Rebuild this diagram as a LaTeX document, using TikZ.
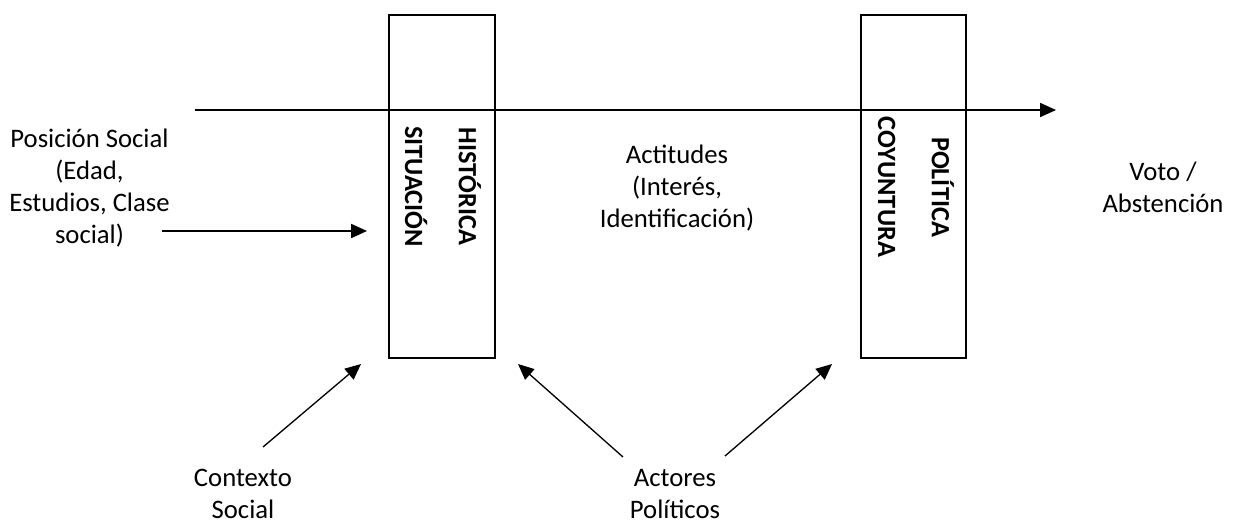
\documentclass[tikz,border=0pt]{standalone}
\usepackage{fontspec}
\setmainfont{Carlito}
\usetikzlibrary{
  positioning,
  arrows.meta,
}
\tikzset{
  panel/.style = {
    rectangle,
    draw = black,
    line width = 1pt,
    minimum width = 2.11cm,
    minimum height = 6.86cm,
    inner sep = 0pt
  },
  etiqueta/.style = {
    align = center,
    inner sep = 0pt,
    font = \fontsize{15.2}{18.2}\selectfont
  },
  vertical/.style = {
    align = center,
    rotate = -90,
    inner sep = 0pt,
    font = \fontsize{15}{30.6}\selectfont\bfseries
  },
  flecha/.style = {
    -{Triangle[length = 9pt, width = 8pt]},
    line width = 0.75pt
  },
}

\begin{document}
\begin{tikzpicture}[x = 0.02cm, y = -0.02cm]
  \useasboundingbox (0,0) rectangle (1237,525);

  % cajas
  \node[panel] (situacion) at (442,186.5) {};
  \node[panel] (coyuntura) at (913.5,186.5) {};
  \node[vertical] (situaciontxt) at (443,186.5) {HISTÓRICA\\SITUACIÓN};
  \node[vertical] (coyunturatxt) at (916,187) {POLÍTICA\\COYUNTURA};

  % textos
  \node[etiqueta] (posicion) at (89.5,188) {Posición Social\\(Edad,\\Estudios, Clase\\social)};
  \node[etiqueta] (actitudes) at (677,188.5) {Actitudes\\(Interés,\\Identificación)};
  \node[etiqueta] (voto) at (1163,187) {Voto /\\Abstención};
  \node[etiqueta] (contexto) at (243,494) {Contexto\\Social};
  \node[etiqueta] (actores) at (675,494) {Actores\\Políticos};

  % puntos de las flechas
  \coordinate (ejeini) at (195,110);
  \coordinate (ejefin) at (1056,110);
  \coordinate (posini) at (162,231);
  \coordinate (posfin) at (367,231);
  \coordinate (conini) at (263,447);
  \coordinate (confin) at (361,364);
  \coordinate (actini1) at (623,457);
  \coordinate (actfin1) at (518,364);
  \coordinate (actini2) at (725,456);
  \coordinate (actfin2) at (832,364);

  \draw[flecha] (ejeini) -- (ejefin);
  \draw[flecha] (posini) -- (posfin);
  \draw[flecha] (conini) -- (confin);
  \draw[flecha] (actini1) -- (actfin1);
  \draw[flecha] (actini2) -- (actfin2);
\end{tikzpicture}
\end{document}
